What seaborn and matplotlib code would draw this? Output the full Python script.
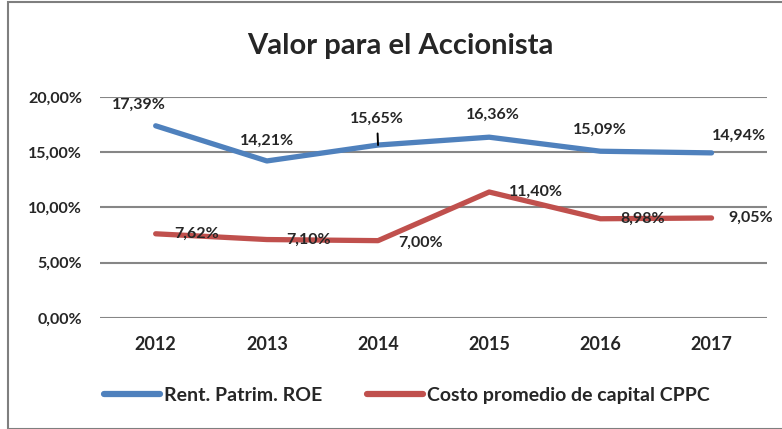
#Line chart: Valor para el Accionista (ROE vs CPPC)

import pandas as pd
from matplotlib import pyplot as plt
import seaborn as sns
import matplotlib.ticker as mtick
from matplotlib.patches import Rectangle

#data (percent)
years = ['2012', '2013', '2014', '2015', '2016', '2017']
roe = [17.39, 14.21, 15.65, 16.36, 15.09, 14.94]
cppc = [7.62, 7.10, 7.00, 11.40, 8.98, 9.05]
series_names = ['Rent. Patrim. ROE', 'Costo promedio de capital CPPC']

colors = ['#4F81BD', '#C0504D']

df = pd.DataFrame({'year': years * 2,
                   'value': roe + cppc,
                   'serie': [series_names[0]] * len(years) + [series_names[1]] * len(years)})

sns.set_style('white')
plt.rcParams['font.family'] = ['Lato', 'DejaVu Sans']

fig = plt.figure(figsize=(7.82, 4.29), dpi=100)
ax = fig.add_axes([0.128, 0.2587, 0.853, 0.5153])

sns.lineplot(data=df, x='year', y='value', hue='serie', palette=colors,
             linewidth=3.8, ax=ax, legend=False, sort=False)

ax.set_xlim(-0.5, 5.5)
ax.set_ylim(0, 20)
ax.set_yticks([0, 5, 10, 15, 20])
ax.yaxis.set_major_formatter(mtick.FuncFormatter(lambda v, p: f'{v:.2f}%'.replace('.', ',')))
ax.grid(axis='y', color='#868686', linewidth=1.5)
ax.set_axisbelow(True)
for s in ax.spines.values():
    s.set_visible(False)
ax.tick_params(axis='y', length=0, pad=13, labelsize=11.5)
ax.tick_params(axis='x', length=0, pad=13, labelsize=13)
for t in ax.get_xticklabels() + ax.get_yticklabels():
    t.set_fontweight('bold')
ax.set(xlabel='', ylabel='')

#data labels (offsets in pixels)
roe_off = [(-17, 21), (0, 20), (-1, 26), (4, 22), (0, 21), (27, 17)]
cppc_off = [(41, 0), (42, 0), (43, -2), (47, 0), (42, 0), (39, 0)]
for i, v in enumerate(roe):
    arrow = dict(arrowstyle='-', color='black', lw=1.4, shrinkA=3, shrinkB=0) if i == 2 else None
    ax.annotate(f'{v:.2f}%'.replace('.', ','), (i, v), xytext=roe_off[i],
                textcoords='offset pixels', ha='center', va='center',
                fontsize=11.5, fontweight='bold', arrowprops=arrow)
for i, v in enumerate(cppc):
    ax.annotate(f'{v:.2f}%'.replace('.', ','), (i, v), xytext=cppc_off[i],
                textcoords='offset pixels', ha='center', va='center',
                fontsize=11.5, fontweight='bold')

fig.suptitle('Valor para el Accionista', x=0.512, y=0.922, fontsize=21, fontweight='bold')

handles = [plt.Line2D([], [], color=c, linewidth=4.5, solid_capstyle='round') for c in colors]
leg = fig.legend(handles, series_names, loc='center', bbox_to_anchor=(0.52, 0.079),
                 ncol=2, frameon=False, handlelength=2.9, handletextpad=0.2,
                 columnspacing=2.3, prop={'weight': 'bold', 'size': 14})

#outer chart border
fig.patches.append(Rectangle((8 / 782, 0.0), 1.0, 1 - 1.5 / 429, transform=fig.transFigure,
                             fill=False, edgecolor='#7f7f7f', linewidth=1.5))

fig.savefig('out.png', dpi=100)
